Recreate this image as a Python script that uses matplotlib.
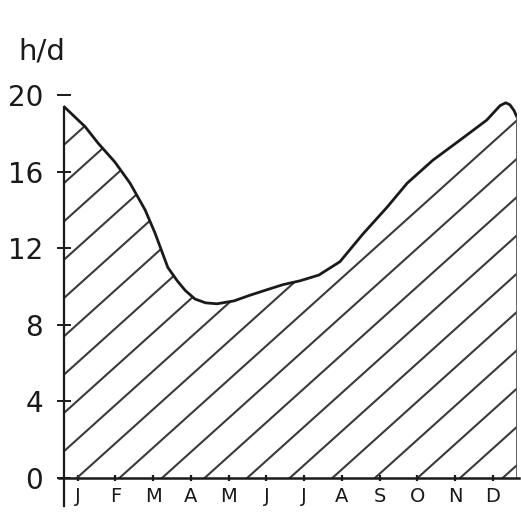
import matplotlib
matplotlib.use("Agg")
import matplotlib.pyplot as plt
import numpy as np

# Tageslänge über das Jahr (x in Monaten 0..12, y in h/d)
month_pos = [0.0, 0.56, 0.9, 1.35, 1.75, 2.15, 2.41, 2.75, 3.0, 3.21, 3.47, 3.75,
             4.05, 4.5, 4.93, 5.4, 5.8, 6.25, 6.75, 7.31, 7.92, 8.56, 9.09, 9.77,
             10.49, 11.2, 11.55, 11.7, 11.81, 11.92, 12.0]
hours = [19.4, 18.35, 17.5, 16.5, 15.4, 14.0, 12.8, 11.0, 10.3, 9.8, 9.35, 9.15,
         9.1, 9.25, 9.55, 9.85, 10.1, 10.3, 10.6, 11.3, 12.75, 14.15, 15.4, 16.6,
         17.65, 18.7, 19.45, 19.6, 19.5, 19.2, 18.85]
month_labels = ["J", "F", "M", "A", "M", "J", "J", "A", "S", "O", "N", "D"]
y_ticks = [0, 4, 8, 12, 16, 20]

plt.rcParams["font.family"] = ["DejaVu Sans"]

fig = plt.figure(figsize=(5.21, 5.15), dpi=100)
ax = fig.add_axes([64 / 521, 37 / 515, 453 / 521, 402 / 515])
ax.set_xlim(0, 12)
ax.set_ylim(0, 21)
for s in ax.spines.values():
    s.set_visible(False)

ink = "#1a1a1a"

# Fläche + Schraffur (eigene Linien, weiter Abstand)
poly = ax.fill_between(month_pos, 0, hours, facecolor="white", edgecolor="none")
clip = poly.get_paths()[0]
slope = 1.774
for k in range(-11, 12):
    x0 = 0.34 + 1.128 * k
    xs = np.array([x0, x0 + 12])
    ln, = ax.plot(xs, slope * (xs - x0), color="#3a3a3a", lw=1.5)
    ln.set_clip_path(clip, ax.transData)

ax.plot(month_pos, hours, color=ink, lw=2.0, solid_joinstyle="round",
        solid_capstyle="round")
ax.plot([12, 12], [0, hours[-1]], color="#555555", lw=2.0)

# Achsen
ax.plot([0, 0], [-1.45, hours[0]], color=ink, lw=1.6, clip_on=False)
ax.plot([-0.12, 12.05], [0, 0], color=ink, lw=1.8, clip_on=False)

ax.set_yticks(y_ticks)
ax.set_yticklabels([str(v) for v in y_ticks])
ax.tick_params(axis="y", direction="inout", length=10, width=1.4, pad=10,
               labelsize=20, colors=ink)
ax.set_xticks([i + 0.36 for i in range(12)])
ax.set_xticklabels(month_labels)
ax.tick_params(axis="x", direction="inout", length=5, width=1.6, pad=4,
               labelsize=14, colors=ink)

fig.text(18 / 521, 1 - 60 / 515, "h/d", fontsize=21, color=ink,
         ha="left", va="baseline")

fig.savefig("out.png", dpi=100)
